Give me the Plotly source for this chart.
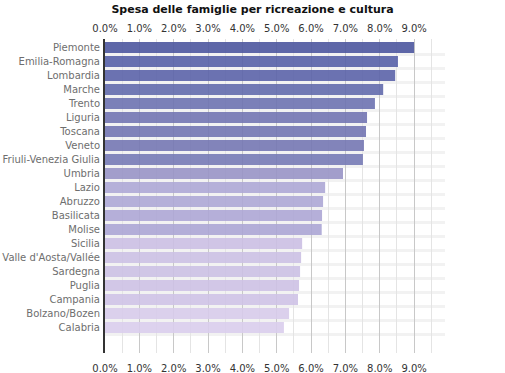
import plotly.graph_objects as go

categories = ["Piemonte", "Emilia-Romagna", "Lombardia", "Marche", "Trento", "Liguria",
              "Toscana", "Veneto", "Friuli-Venezia Giulia", "Umbria", "Lazio", "Abruzzo",
              "Basilicata", "Molise", "Sicilia", "Valle d'Aosta/Vallée", "Sardegna",
              "Puglia", "Campania", "Bolzano/Bozen", "Calabria"]
values = [0.0900, 0.0853, 0.0845, 0.0810, 0.0786, 0.0763, 0.0760, 0.0754, 0.0751, 0.0693,
          0.0641, 0.0635, 0.0632, 0.0631, 0.0574, 0.0571, 0.0568, 0.0565, 0.0562, 0.0536,
          0.0521]
rendered_colors = ["#5e67a8", "#6870b0", "#6b73b1", "#7279b4", "#7c80b8", "#8082b9",
                   "#8082b9", "#8285ba", "#8387bc", "#a29fcb", "#b5b0d9", "#b5b0d9",
                   "#b5afd9", "#b3aed8", "#d0c5e6", "#d0c6e6", "#d0c6e6", "#d2c7e7",
                   "#d3c8e8", "#dbd0ec", "#ddd2ee"]

ALPHA = 0.9


def base_rgba(hexc, a=ALPHA):
    r, g, b = (int(hexc[i:i + 2], 16) for i in (1, 3, 5))
    f = lambda c: max(0, min(255, round((c - (1 - a) * 255) / a)))
    return f"rgba({f(r)},{f(g)},{f(b)},{a})"


colors = [base_rgba(c) for c in rendered_colors]
XMAX = 0.099
GAP = 0.214

fig = go.Figure()
fig.add_trace(go.Bar(x=values, y=categories, orientation="h",
                     marker=dict(color=colors, line=dict(width=0)),
                     xaxis="x", yaxis="y", showlegend=False))
fig.add_trace(go.Scatter(x=values, y=categories, mode="markers",
                         marker=dict(opacity=0), xaxis="x2", yaxis="y",
                         showlegend=False, hoverinfo="skip"))

shapes = []
for i in range(len(categories)):
    shapes.append(dict(type="rect", xref="x", yref="y", x0=0, x1=XMAX,
                       y0=i + 0.5 - GAP / 2, y1=i + 0.5 + GAP / 2,
                       fillcolor="#f2f2f2", line=dict(width=0), layer="below"))

tickfont = dict(family="DejaVu Sans", size=10, color="#333333")
common_x = dict(range=[0, XMAX], tickformat=".1%", dtick=0.01, tick0=0,
                tickfont=tickfont, ticks="", zeroline=False, fixedrange=True,
                automargin=False)

fig.update_layout(
    width=505, height=373,
    margin=dict(l=105, r=60, t=39, b=20, autoexpand=False),
    paper_bgcolor="white", plot_bgcolor="white",
    bargap=GAP,
    shapes=shapes,
    hovermode=False,
    title=dict(text="<b>Spesa delle famiglie per ricreazione e cultura</b>",
               font=dict(family="DejaVu Sans", size=11, color="#111111"),
               x=0.5, xref="container", xanchor="center",
               y=1 - 9 / 373, yref="container", yanchor="middle"),
    xaxis=dict(side="top", showgrid=True, gridcolor="#c8c8c8", gridwidth=1,
               minor=dict(dtick=0.005, showgrid=True, gridcolor="#e4e4e4", gridwidth=1),
               ticklabelstandoff=4, **common_x),
    xaxis2=dict(side="bottom", overlaying="x", matches="x", showgrid=False,
                ticklabelstandoff=8, **common_x),
    yaxis=dict(type="category", range=[21.82, -0.607], showgrid=False,
               showline=True, linecolor="#333333", linewidth=2, ticks="",
               tickfont=dict(family="DejaVu Sans", size=10, color="#6e6e6e"),
               ticklabelstandoff=1, fixedrange=True, automargin=False),
)

fig.write_html("out.html", config={"displayModeBar": False},
               post_script="document.body.style.margin='0';")
